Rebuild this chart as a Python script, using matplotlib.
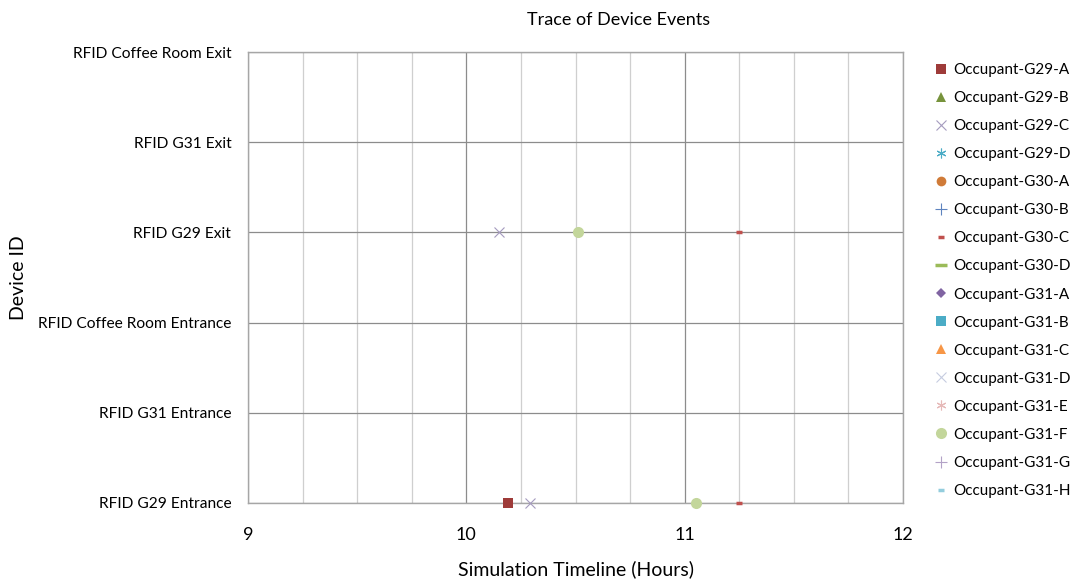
import matplotlib
matplotlib.use("Agg")
import matplotlib.pyplot as plt
import matplotlib.ticker as mticker

plt.rcParams["font.family"] = ["Lato", "DejaVu Sans"]

# device rows, bottom to top
DEVICES = [
    "RFID G29 Entrance",
    "RFID G31 Entrance",
    "RFID Coffee Room Entrance",
    "RFID G29 Exit",
    "RFID G31 Exit",
    "RFID Coffee Room Exit",
]

OCCUPANTS = [
    "Occupant-G29-A", "Occupant-G29-B", "Occupant-G29-C", "Occupant-G29-D",
    "Occupant-G30-A", "Occupant-G30-B", "Occupant-G30-C", "Occupant-G30-D",
    "Occupant-G31-A", "Occupant-G31-B", "Occupant-G31-C", "Occupant-G31-D",
    "Occupant-G31-E", "Occupant-G31-F", "Occupant-G31-G", "Occupant-G31-H",
]

# recorded events
event_occupant = ["Occupant-G29-A", "Occupant-G29-C", "Occupant-G29-C",
                  "Occupant-G31-F", "Occupant-G31-F",
                  "Occupant-G30-C", "Occupant-G30-C"]
event_time = [10.19, 10.29, 10.15, 11.05, 10.51, 11.25, 11.25]
event_device = ["RFID G29 Entrance", "RFID G29 Entrance", "RFID G29 Exit",
                "RFID G29 Entrance", "RFID G29 Exit",
                "RFID G29 Entrance", "RFID G29 Exit"]

# marker style per occupant: (marker, colour, size, edge width)
STYLES = [
    ("s", "#9E3B39", 7, 1), ("^", "#77933C", 7, 1), ("x", "#A59BBF", 7, 0.8),
    ((6, 2, 0), "#4BACC6", 7, 0.8), ("o", "#D07B38", 7, 1), ("+", "#5E84BF", 8, 0.8),
    ("_", "#C0504D", 5, 2.5), ("_", "#9BBB59", 9, 2.5), ("D", "#8064A2", 5, 1),
    ("s", "#4BACC6", 7, 1), ("^", "#F79646", 7, 1), ("x", "#C6CCE0", 7, 0.8),
    ((6, 2, 0), "#E6B9B8", 7, 0.8), ("o", "#C3D69B", 8, 1), ("+", "#B3A2C7", 8, 0.8),
    ("_", "#93CDDD", 4, 2.5),
]

fig = plt.figure(figsize=(10.76, 5.87), dpi=100)
ax = fig.add_axes([248 / 1076, 1 - 503 / 587, 655 / 1076, 451 / 587])

for name, (mk, col, ms, mew) in zip(OCCUPANTS, STYLES):
    xs = [t for o, t in zip(event_occupant, event_time) if o == name]
    ys = [DEVICES.index(d) for o, d in zip(event_occupant, event_device) if o == name]
    filled = mk in ("s", "^", "o", "D")
    ax.plot(xs, ys, linestyle="none", marker=mk, color=col, markersize=ms,
            markeredgewidth=mew if not filled else 0, label=name, clip_on=False,
            zorder=3)

ax.set_xlim(9, 12)
ax.set_ylim(0, len(DEVICES) - 1)
ax.xaxis.set_major_locator(mticker.MultipleLocator(1))
ax.xaxis.set_minor_locator(mticker.MultipleLocator(0.25))
ax.set_yticks(range(len(DEVICES)))
ax.set_yticklabels(DEVICES)
ax.tick_params(axis="both", which="both", length=0)
ax.tick_params(axis="x", labelsize=13, pad=17)
ax.tick_params(axis="y", labelsize=11.2, pad=12)

ax.grid(True, which="major", axis="both", color="#8C8C8C", linewidth=0.9)
ax.grid(True, which="minor", axis="x", color="#CFCFCF", linewidth=0.9)
ax.set_axisbelow(True)
for sp in ax.spines.values():
    sp.set_color("#A6A6A6")
    sp.set_linewidth(1.0)

ax.set_xlabel("Simulation Timeline (Hours)", fontsize=14)
ax.xaxis.set_label_coords(0.5, -0.128)
ax.set_ylabel("Device ID", fontsize=14)
ax.yaxis.set_label_coords(-0.337, 0.5)
fig.text(619 / 1076, 1 - 20 / 587, "Trace of Device Events", fontsize=13,
         ha="center", va="center")

fig.legend(loc="upper left", bbox_to_anchor=(930 / 1076, 1 - 57 / 587),
           frameon=False, fontsize=11, handlelength=0.7, handletextpad=0.4,
           labelspacing=0.92, borderaxespad=0)

fig.savefig("out.png", dpi=100)
